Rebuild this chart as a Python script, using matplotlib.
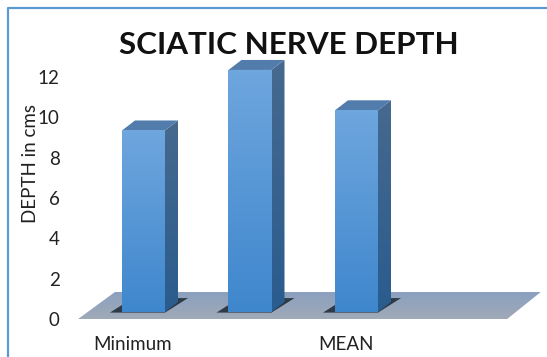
import numpy as np
import matplotlib
matplotlib.use("Agg")
import matplotlib.pyplot as plt
from matplotlib.colors import LinearSegmentedColormap
from matplotlib.lines import Line2D
from matplotlib.patches import Polygon
from matplotlib.transforms import ScaledTranslation

categories = ["Minimum", "", "MEAN"]
depth_values = [9, 12, 10]
y_ticks = [0, 2, 4, 6, 8, 10, 12]

plt.rcParams["font.family"] = ["Lato", "DejaVu Sans"]

BAR_W = 43 / 106.5
DX = 13 / 106.5
DY = 10 / 20.17


def gradient(ax, extent, colors, patch, zorder=2):
    cmap = LinearSegmentedColormap.from_list("g", colors)
    data = np.linspace(0, 1, 64).reshape(-1, 1)
    im = ax.imshow(data, extent=extent, cmap=cmap, aspect="auto",
                   origin="upper", zorder=zorder, interpolation="bilinear")
    ax.add_patch(patch)
    im.set_clip_path(patch)


fig = plt.figure(figsize=(5.47, 3.57), dpi=100)
ax = fig.add_axes([0, 0, 1, 1])

# floor, from the baseline of the bars
fl = Polygon([(-0.268, 0.99), (3.73, 0.99), (3.414, -0.35), (-0.615, -0.35)],
             closed=True, fc="none", ec="none", transform=ax.transData)
gradient(ax, (-0.615, 3.73, -0.35, 0.99), ["#8A9FBF", "#A0AAB8"], fl, zorder=1)

for i, v in enumerate(depth_values):
    l, r = i - BAR_W / 2, i + BAR_W / 2

    # shadow under the bar
    ax.add_patch(Polygon([(l - 0.113, -0.03), (r, -0.03), (r + 0.216, 0.69),
                          (r + 0.1, 0.69), (l, 0.35)],
                         fc="#2E3A46", ec="none", zorder=2))

    # side face and top face
    side = Polygon([(r, 0), (r + DX, DY), (r + DX, v + DY), (r, v)],
                   fc="none", ec="none")
    gradient(ax, (r, r + DX, 0, v + DY), ["#46698F", "#2A5C8E"], side, zorder=3)
    ax.add_patch(Polygon([(l, v), (l + DX, v + DY), (r + DX, v + DY), (r, v)],
                         fc="#527CAB", ec="none", zorder=3))

    # front face
    bar = ax.bar(i, v, width=BAR_W, color="none", zorder=4)[0]
    gradient(ax, (l, r, 0, v), ["#6EA6DE", "#3F87CD"], bar, zorder=4)

ax.set_xlim(-143.5 / 106.5, (547 - 143.5) / 106.5)
ax.set_ylim(-(357 - 312) / 20.17, 312 / 20.17)

for s in ax.spines.values():
    s.set_visible(False)
ax.patch.set_alpha(0)
ax.tick_params(length=0, direction="in")

ax.set_yticks(y_ticks)
ax.set_yticklabels(y_ticks, fontsize=13.5, color="#222222")
ax.tick_params(axis="y", pad=-43)
down = ScaledTranslation(0, -7 / 100, fig.dpi_scale_trans)
for t in ax.get_yticklabels():
    t.set_transform(t.get_transform() + down)
    t.set_horizontalalignment("right")

ax.set_xticks([i - 0.1 for i in range(len(categories))])
ax.set_xticklabels(categories, fontsize=13.5, color="#222222")
ax.tick_params(axis="x", pad=-15)

fig.text(31 / 547, 1 - 164 / 357, "DEPTH in cms", rotation=90, fontsize=13.5,
         color="#222222", ha="center", va="center")
fig.text(289 / 547, 1 - 45 / 357, "SCIATIC NERVE DEPTH", fontsize=22.6,
         fontweight="bold", color="#111111", ha="center", va="center")

# chart frame, only top and left are in the crop
fig.add_artist(Line2D([8 / 547, 8 / 547, 1], [0, 1 - 8 / 357, 1 - 8 / 357],
                      color="#5B9BD5", lw=1.6))

fig.savefig("out.png", dpi=100, facecolor="white")
